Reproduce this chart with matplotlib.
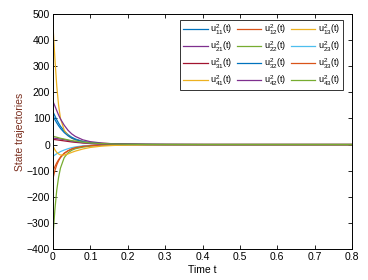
import numpy as np
import matplotlib
matplotlib.use('Agg')
import matplotlib.pyplot as plt

plt.rcParams['font.family'] = ['Liberation Sans', 'DejaVu Sans']
plt.rcParams['mathtext.fontset'] = 'custom'
plt.rcParams['mathtext.rm'] = 'Liberation Sans'
plt.rcParams['mathtext.it'] = 'Liberation Sans'

# sample times
t = [0, 0.005, 0.01, 0.015, 0.02, 0.03, 0.04, 0.05, 0.06, 0.08, 0.1, 0.13, 0.16, 0.2, 0.25, 0.3, 0.4, 0.8]

u11 = [125, 110, 95, 82, 70, 52, 38, 28, 21, 12, 7, 4, 2, 1, 0.5, 0.2, 0, 0]
u12 = [-130, -100, -78, -62, -50, -34, -24, -17, -12, -7, -4, -2, -1, -0.5, -0.2, 0, 0, 0]
u13 = [455, 330, 225, 150, 100, 55, 35, 24, 18, 12, 8, 5, 3, 2, 1, 0.5, 0, 0]
u21 = [165, 148, 130, 113, 98, 74, 55, 41, 31, 18, 11, 6, 3, 1.5, 0.5, 0.2, 0, 0]
u22 = [-350, -250, -175, -125, -90, -50, -32, -22, -16, -10, -6, -3.5, -2, -1, -0.5, -0.2, 0, 0]
u23 = [-45, -40, -35, -31, -27, -21, -16, -12, -9, -5, -3, -1.5, -0.8, -0.3, -0.1, 0, 0, 0]
u31 = [20, 19, 18, 17, 16, 14, 12, 10, 8.5, 6, 4, 2.5, 1.5, 0.7, 0.3, 0.1, 0, 0]
u32 = [110, 96, 83, 72, 62, 46, 34, 25, 19, 11, 6.5, 3.5, 2, 1, 0.4, 0.2, 0, 0]
u33 = [-100, -85, -70, -58, -48, -33, -24, -17, -12, -7, -4, -2, -1, -0.5, -0.2, 0, 0, 0]
u41 = [-5, -20, -30, -36, -40, -40, -36, -30, -25, -17, -11, -6, -3.5, -1.5, -0.6, -0.2, 0, 0]
u42 = [25, 24, 23, 22, 21, 19, 16, 13, 11, 7, 4.5, 2.5, 1.5, 0.7, 0.3, 0.1, 0, 0]
u43 = [32, 30, 28, 26, 24, 21, 18, 15, 13, 9, 6, 3.5, 2, 1, 0.4, 0.2, 0, 0]

series = [u11, u12, u13, u21, u22, u23, u31, u32, u33, u41, u42, u43]
labels = [r'$\mathregular{u^2_{%d%d}(t)}$' % (i, j) for i in range(1, 5) for j in range(1, 4)]

colors = ['#0072BD', '#D95319', '#EDB120', '#7E2F8E', '#77AC30', '#4DBEEE', '#A2142F',
          '#0072BD', '#D95319', '#EDB120', '#7E2F8E', '#77AC30']

fig = plt.figure(figsize=(3.68, 2.8), dpi=100)
ax = fig.add_axes([53 / 368, 1 - 249 / 280, 299 / 368, 235 / 280])

handles = []
for y, c, lab in zip(series, colors, labels):
    h, = ax.plot(t, y, color=c, lw=0.9, label=lab)
    handles.append(h)

ax.set_xlim(0, 0.8)
ax.set_ylim(-400, 500)
ax.set_xticks(np.arange(0, 0.81, 0.1))
ax.set_xticklabels(['0', '0.1', '0.2', '0.3', '0.4', '0.5', '0.6', '0.7', '0.8'])
ax.set_yticks(np.arange(-400, 501, 100))
ax.tick_params(labelsize=7.5, direction='in', length=3, width=0.6, top=True, right=True, pad=2)
for s in ax.spines.values():
    s.set_linewidth(0.7)
ax.set_xlabel('Time t', fontsize=7.5, labelpad=2)
ax.set_ylabel('State trajectories', fontsize=7.5, color='#7a2e1e', labelpad=1)

# legend is filled column by column, so reorder to read row by row
order = [i for col in range(3) for i in range(col, 12, 3)]
leg = ax.legend([handles[i] for i in order], [labels[i] for i in order], ncol=3,
                fontsize=6.5, loc='upper right', bbox_to_anchor=(0.97, 0.975),
                frameon=True, fancybox=False, edgecolor='#333333', handlelength=2.7,
                columnspacing=0.5, handletextpad=0.3, labelspacing=0.3, borderpad=0.3,
                borderaxespad=0, framealpha=1)
leg.get_frame().set_linewidth(0.7)

fig.savefig('out.png', dpi=100)
